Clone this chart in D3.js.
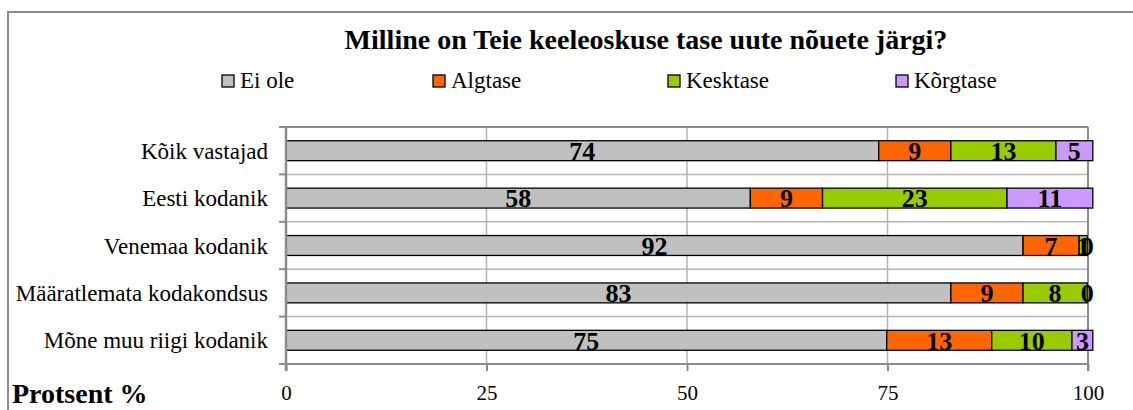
<!DOCTYPE html>
<html>
<head>
<meta charset="utf-8">
<script src="https://cdn.jsdelivr.net/npm/d3@7"></script>
<style>
  body { margin: 0; background: #fff; }
  svg, svg text { font-family: "Liberation Serif", "DejaVu Serif", "Times New Roman", Times, serif; }
</style>
</head>
<body>
<svg id="chart" width="1133" height="410"></svg>
<script>
// data
var categories = ["Kõik vastajad", "Eesti kodanik", "Venemaa kodanik", "Määratlemata kodakondsus", "Mõne muu riigi kodanik"];
var seriesNames = ["Ei ole", "Algtase", "Kesktase", "Kõrgtase"];
var seriesColors = ["#C0C0C0", "#FF6600", "#99CC00", "#CC99FF"];
var eiOle    = [73.9, 57.9, 91.9, 82.9, 74.9];
var algtase  = [9.0, 9.0, 7.0, 9.0, 13.1];
var kesktase = [13.1, 23.0, 1.0, 8.0, 10.0];
var korgtase = [4.6, 10.7, 0, 0, 2.6];
var xTicks = [0, 25, 50, 75, 100];

var FONT = "'Liberation Serif', 'DejaVu Serif', 'Times New Roman', Times, serif";

var svg = d3.select("#chart");

var margin = { left: 286, right: 1088, top: 127, bottom: 364 };

var x = d3.scaleLinear().domain([0, 100]).range([margin.left, margin.right]);
var y = d3.scaleBand().domain(categories).range([margin.top, margin.bottom]).padding(0);
var barH = y.bandwidth() * 0.42;

var rows = categories.map(function (c, i) {
  return { cat: c, values: [eiOle[i], algtase[i], kesktase[i], korgtase[i]] };
});

// outer frame
svg.append("rect")
  .attr("x", 8).attr("y", 12)
  .attr("width", 1140).attr("height", 420)
  .attr("fill", "none")
  .attr("stroke", "#8c8c8c")
  .attr("stroke-width", 2);

// title
svg.append("text")
  .attr("x", 646).attr("y", 49)
  .attr("text-anchor", "middle")
  .attr("font-family", FONT)
  .attr("font-size", "28px")
  .attr("font-weight", "bold")
  .text("Milline on Teie keeleoskuse tase uute nõuete järgi?");

// legend
var legendX = [222, 433, 668, 896];
var legend = svg.append("g");
seriesNames.forEach(function (name, i) {
  legend.append("rect")
    .attr("x", legendX[i]).attr("y", 75)
    .attr("width", 12).attr("height", 12)
    .attr("fill", seriesColors[i])
    .attr("stroke", "#000")
    .attr("stroke-width", 1.3);
  legend.append("text")
    .attr("x", legendX[i] + 18).attr("y", 88)
    .attr("font-family", FONT)
    .attr("font-size", "23px")
    .text(name);
});

// gridlines
var grid = svg.append("g");
grid.selectAll("line.v")
  .data(xTicks.slice(1, 4))
  .enter().append("line")
  .attr("x1", function (d) { return x(d); })
  .attr("x2", function (d) { return x(d); })
  .attr("y1", margin.top).attr("y2", margin.bottom)
  .attr("stroke", "#b4b4b4").attr("stroke-width", 1.5);

var bounds = categories.map(function (c) { return y(c); }).concat([margin.bottom]);
grid.selectAll("line.h")
  .data(bounds.slice(1, 5))
  .enter().append("line")
  .attr("x1", margin.left).attr("x2", margin.right)
  .attr("y1", function (d) { return d; })
  .attr("y2", function (d) { return d; })
  .attr("stroke", "#b4b4b4").attr("stroke-width", 1.5);

// plot top and right border
svg.append("line")
  .attr("x1", margin.left - 7).attr("x2", margin.right)
  .attr("y1", margin.top).attr("y2", margin.top)
  .attr("stroke", "#8c8c8c").attr("stroke-width", 2);
svg.append("line")
  .attr("x1", margin.right).attr("x2", margin.right)
  .attr("y1", margin.top).attr("y2", margin.bottom + 7)
  .attr("stroke", "#8c8c8c").attr("stroke-width", 2);

// bars
var barG = svg.append("g");
rows.forEach(function (r) {
  var start = 0;
  var cy = y(r.cat) + y.bandwidth() / 2;
  r.values.forEach(function (v, i) {
    var x0 = x(start), x1 = x(start + v);
    if (v > 0) {
      barG.append("rect")
        .attr("x", x0).attr("y", cy - barH / 2)
        .attr("width", x1 - x0).attr("height", barH)
        .attr("fill", seriesColors[i])
        .attr("stroke", "#000")
        .attr("stroke-width", 1.3);
    }
    start += v;
  });
});

// value labels
var labelG = svg.append("g");
rows.forEach(function (r) {
  var start = 0;
  var cy = y(r.cat) + y.bandwidth() / 2;
  r.values.forEach(function (v) {
    labelG.append("text")
      .attr("x", x(start + v / 2))
      .attr("y", cy)
      .attr("dy", ".36em")
      .attr("text-anchor", "middle")
      .attr("font-family", FONT)
      .attr("font-size", "26px")
      .attr("font-weight", "bold")
      .text(d3.format(".0f")(v));
    start += v;
  });
});

// y axis
var yAxisG = svg.append("g");
yAxisG.append("line")
  .attr("x1", margin.left).attr("x2", margin.left)
  .attr("y1", margin.top).attr("y2", margin.bottom + 7)
  .attr("stroke", "#8c8c8c").attr("stroke-width", 2.5);
yAxisG.selectAll("line.t")
  .data(bounds.slice(1, 5))
  .enter().append("line")
  .attr("x1", margin.left - 7).attr("x2", margin.left)
  .attr("y1", function (d) { return d; })
  .attr("y2", function (d) { return d; })
  .attr("stroke", "#8c8c8c").attr("stroke-width", 2);
yAxisG.selectAll("text")
  .data(categories)
  .enter().append("text")
  .attr("x", 268)
  .attr("y", function (d) { return y(d) + y.bandwidth() / 2; })
  .attr("dy", ".35em")
  .attr("text-anchor", "end")
  .attr("font-family", FONT)
  .attr("font-size", "23px")
  .text(function (d) { return d; });

// x axis
var xAxis = d3.axisBottom(x).tickValues(xTicks).tickSize(7).tickPadding(14);
var xAxisG = svg.append("g")
  .attr("transform", "translate(0," + margin.bottom + ")")
  .call(xAxis);
xAxisG.select(".domain")
  .attr("stroke", "#8c8c8c").attr("stroke-width", 2)
  .attr("d", "M" + (margin.left - 7) + ",0H" + margin.right);
xAxisG.selectAll(".tick line").attr("stroke", "#8c8c8c").attr("stroke-width", 2);
xAxisG.selectAll(".tick text")
  .attr("font-family", FONT)
  .attr("font-size", "21px")
  .attr("fill", "#000");

// axis title
svg.append("text")
  .attr("x", 12).attr("y", 403)
  .attr("font-family", FONT)
  .attr("font-size", "28px")
  .attr("font-weight", "bold")
  .text("Protsent %");
</script>
</body>
</html>
